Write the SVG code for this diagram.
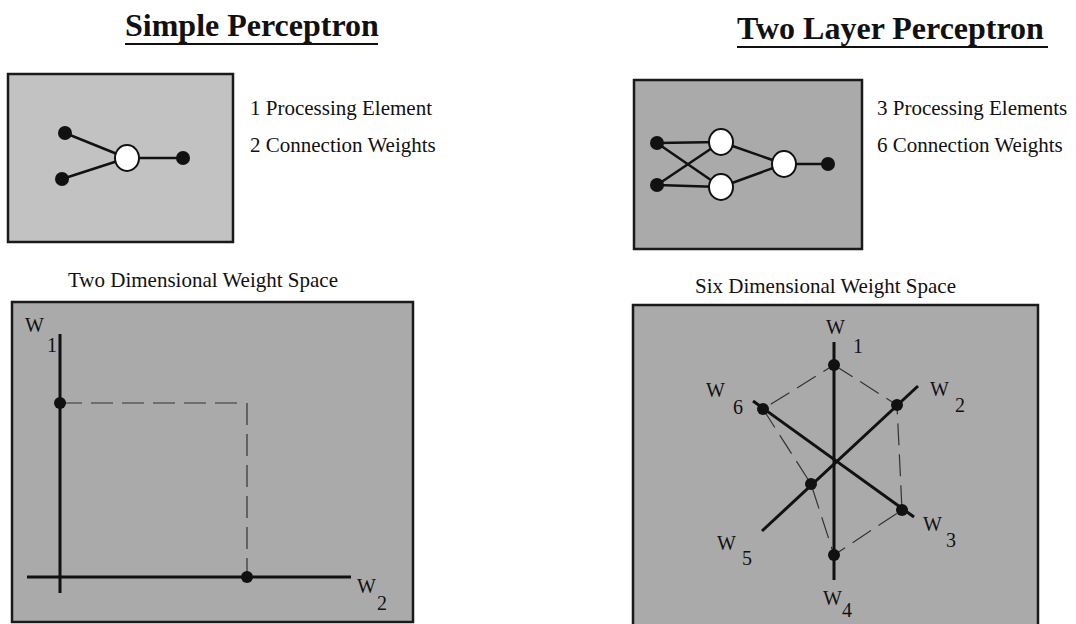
<svg xmlns="http://www.w3.org/2000/svg" width="1076" height="624" viewBox="0 0 1076 624">
<style>
.title{font-family:"Liberation Serif","Times New Roman",serif;font-weight:bold;font-size:32px;fill:#111}
.t{font-family:"Liberation Serif","Times New Roman",serif;font-size:21px;fill:#111}
.lab{font-family:"Liberation Serif","Times New Roman",serif;font-size:20px;fill:#111}
.box{stroke:#1a1a1a;stroke-width:2.5}
.net{stroke:#111;stroke-width:2.5;fill:none}
.axis{stroke:#111;stroke-width:3;fill:none}
.dash{stroke:#333;stroke-width:1.2;stroke-dasharray:22 9;fill:none}
.dot{fill:#111}
.pe{fill:#fff;stroke:#111;stroke-width:2}
</style>
<rect width="1076" height="624" fill="#fff"/>
<g id="title-simple">
<text class="title" x="125" y="36">Simple Perceptron</text>
<line x1="125" y1="44" x2="378" y2="44" stroke="#111" stroke-width="2"/>
</g>
<g id="title-two">
<text class="title" x="737" y="39">Two Layer Perceptron</text>
<line x1="737" y1="47" x2="1048" y2="47" stroke="#111" stroke-width="2"/>
</g>
<g id="simple-net">
<rect class="box" x="8" y="74" width="225" height="168" fill="#c2c2c2"/>
<g id="connectors-simple">
<line class="net" x1="65" y1="133" x2="127" y2="158"/>
<line class="net" x1="62" y1="179" x2="127" y2="158"/>
<line class="net" x1="127" y1="158" x2="183" y2="158"/>
</g>
<circle class="dot" cx="65" cy="133" r="7"/>
<circle class="dot" cx="62" cy="179" r="7"/>
<circle class="dot" cx="183" cy="158" r="7"/>
<ellipse class="pe" cx="127" cy="158" rx="12" ry="13"/>
</g>
<g id="simple-text">
<text class="t" x="250" y="115">1 Processing Element</text>
<text class="t" x="250" y="152">2 Connection Weights</text>
</g>
<g id="two-net">
<rect class="box" x="634" y="80" width="228" height="169" fill="#aaaaaa"/>
<g id="connectors-two">
<line class="net" x1="657" y1="143" x2="721" y2="142"/>
<line class="net" x1="657" y1="143" x2="721" y2="187"/>
<line class="net" x1="657" y1="185" x2="721" y2="142"/>
<line class="net" x1="657" y1="185" x2="721" y2="187"/>
<line class="net" x1="721" y1="142" x2="784" y2="164"/>
<line class="net" x1="721" y1="187" x2="784" y2="164"/>
<line class="net" x1="784" y1="164" x2="828" y2="164"/>
</g>
<circle class="dot" cx="657" cy="143" r="7"/>
<circle class="dot" cx="657" cy="185" r="7"/>
<circle class="dot" cx="828" cy="164" r="7"/>
<ellipse class="pe" cx="721" cy="142" rx="12" ry="13"/>
<ellipse class="pe" cx="721" cy="187" rx="12" ry="13"/>
<ellipse class="pe" cx="784" cy="164" rx="12" ry="13"/>
</g>
<g id="two-text">
<text class="t" x="877" y="115">3 Processing Elements</text>
<text class="t" x="877" y="152">6 Connection Weights</text>
</g>
<g id="space-2d">
<text class="t" x="68" y="287">Two Dimensional Weight Space</text>
<rect class="box" x="12" y="302" width="401" height="320" fill="#aaaaaa"/>
<line class="dash" x1="60" y1="403" x2="237" y2="403"/>
<line class="dash" x1="247" y1="403" x2="247" y2="577"/>
<line class="axis" x1="60" y1="334" x2="60" y2="593"/>
<line class="axis" x1="27" y1="577" x2="351" y2="577"/>
<circle class="dot" cx="60" cy="403" r="6"/>
<circle class="dot" cx="247" cy="577" r="6"/>
<text class="lab" x="25" y="332">W</text>
<text class="lab" x="47" y="352">1</text>
<text class="lab" x="357" y="593">W</text>
<text class="lab" x="377" y="610">2</text>
</g>
<g id="space-6d">
<text class="t" x="695" y="293">Six Dimensional Weight Space</text>
<rect class="box" x="633" y="305" width="405" height="322" fill="#aaaaaa"/>
<polygon class="dash" points="834,365 897,405 902,510 834,555 811,484 763,409" stroke-dasharray="14 8"/>
<line class="axis" x1="834" y1="342" x2="834" y2="580"/>
<line class="axis" x1="918" y1="386" x2="762" y2="531"/>
<line class="axis" x1="753" y1="401" x2="914" y2="517"/>
<circle class="dot" cx="834" cy="365" r="6"/>
<circle class="dot" cx="897" cy="405" r="6"/>
<circle class="dot" cx="902" cy="510" r="6"/>
<circle class="dot" cx="834" cy="555" r="6"/>
<circle class="dot" cx="811" cy="484" r="6"/>
<circle class="dot" cx="763" cy="409" r="6"/>
<text class="lab" x="826" y="334">W</text>
<text class="lab" x="853" y="353">1</text>
<text class="lab" x="930" y="396">W</text>
<text class="lab" x="955" y="412">2</text>
<text class="lab" x="706" y="397">W</text>
<text class="lab" x="733" y="414">6</text>
<text class="lab" x="923" y="531">W</text>
<text class="lab" x="946" y="547">3</text>
<text class="lab" x="717" y="550">W</text>
<text class="lab" x="742" y="565">5</text>
<text class="lab" x="823" y="605">W</text>
<text class="lab" x="842" y="617">4</text>
</g>
</svg>
